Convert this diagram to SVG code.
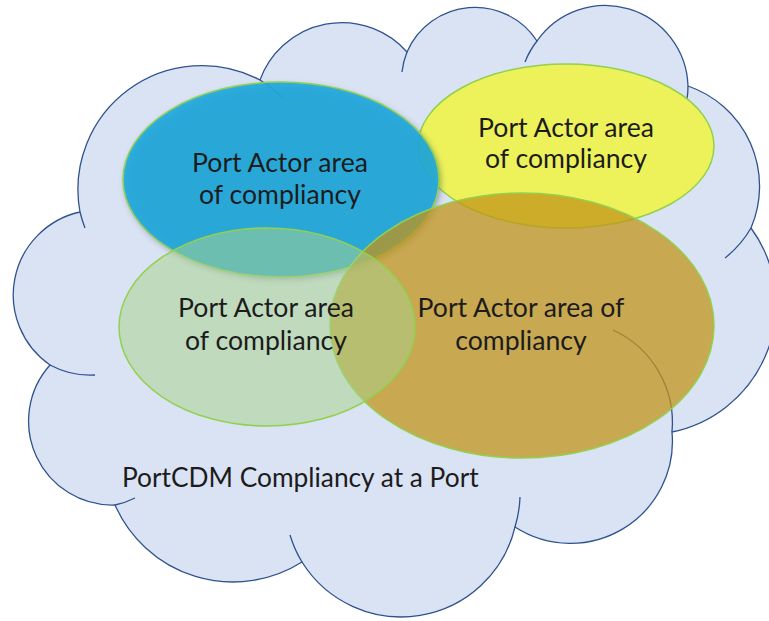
<svg xmlns="http://www.w3.org/2000/svg" width="769" height="621" viewBox="0 0 769 621">
<style>
.cloud{fill:#dae3f3;stroke:#2f528f;stroke-width:1.3}
.tick{fill:none;stroke:#2f528f;stroke-width:1.3}
.ell{stroke:#92d050;stroke-width:1.5}
.t{font-family:Lato,"Liberation Sans",sans-serif;font-size:26.6px;fill:#1c1c1c;text-anchor:middle}
.lbl{font-family:Lato,"Liberation Sans",sans-serif;font-size:26.3px;fill:#1c1c1c}
</style>
<defs>
<filter id="sh" x="-20%" y="-20%" width="140%" height="140%">
<feGaussianBlur stdDeviation="3"/>
</filter>
</defs>
<rect width="769" height="621" fill="#ffffff"/>
<g id="cloud">
<path class="cloud" d="M80,212 A124,124 0 0 1 260,80 A87,87 0 0 1 407,52 A74,74 0 0 1 537,41 A83,83 0 0 1 688,86 A106,106 0 0 1 751,228 A130,130 0 0 1 672,432 A102,102 0 0 1 515,527 A117,117 0 0 1 302,562 A129,129 0 0 1 115,505 A84,84 0 0 1 50,365 A85,85 0 0 1 80,212 Z"/>
<path class="tick" d="M85,228 A124,124 0 0 1 80,212"/>
<path class="tick" d="M260,80 A124,124 0 0 1 282,97"/>
<path class="tick" d="M402,72 A74,74 0 0 1 407,52"/>
<path class="tick" d="M525,62 A83,83 0 0 1 537,41"/>
<path class="tick" d="M688,86 A83,83 0 0 1 687,99"/>
<path class="tick" d="M751,228 A106,106 0 0 1 725,258"/>
<path class="tick" d="M613,330 A102,102 0 0 1 672,432"/>
<path class="tick" d="M520,497 A117,117 0 0 1 515,527"/>
<path class="tick" d="M302,562 A117,117 0 0 1 290,535"/>
<path class="tick" d="M135,498 A84,84 0 0 1 115,505"/>
<path class="tick" d="M95,375 A85,85 0 0 1 50,365"/>
</g>
<g id="yellow">
<ellipse class="ell" cx="566" cy="146" rx="148" ry="82" fill="#eef25a"/>
</g>
<g id="blue">
<ellipse cx="283" cy="182" rx="158" ry="97" fill="#1f3a50" opacity="0.4" filter="url(#sh)"/>
<ellipse class="ell" cx="281" cy="179.5" rx="158" ry="97.5" fill="#1ea8dd" fill-opacity="0.9"/>
</g>
<g id="brown">
<ellipse class="ell" cx="522" cy="325.5" rx="192" ry="132.5" fill="#c2941a" fill-opacity="0.75"/>
</g>
<g id="green">
<ellipse class="ell" cx="267" cy="327" rx="148" ry="99" fill="#a9d18e" fill-opacity="0.53"/>
</g>
<g id="labels">
<text class="t" x="280" y="172">Port Actor area</text>
<text class="t" x="280" y="204">of compliancy</text>
<text class="t" x="566" y="137">Port Actor area</text>
<text class="t" x="566" y="168">of compliancy</text>
<text class="t" x="266" y="317">Port Actor area</text>
<text class="t" x="266" y="350">of compliancy</text>
<text class="t" x="521" y="317">Port Actor area of</text>
<text class="t" x="521" y="350">compliancy</text>
<text class="lbl" x="122" y="487">PortCDM Compliancy at a Port</text>
</g>
</svg>
